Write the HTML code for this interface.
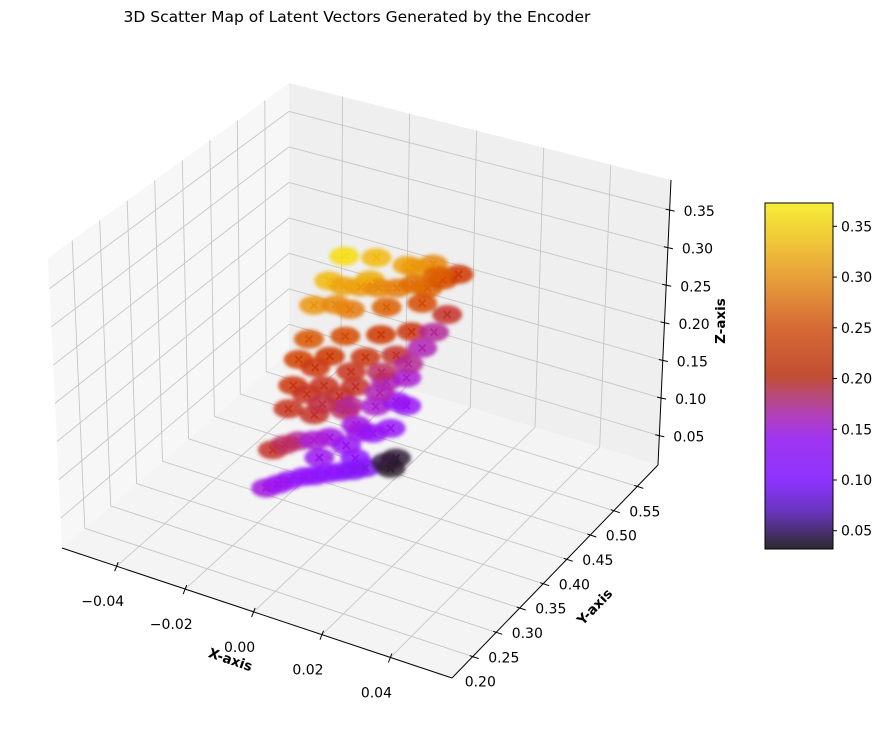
<!DOCTYPE html>
<html><head><meta charset="utf-8">
<style>
html,body{margin:0;padding:0;background:#fff;}
svg{display:block;font-family:"DejaVu Sans","Liberation Sans",sans-serif;}
</style></head>
<body>
<svg id="chart" width="885" height="733" viewBox="0 0 885 733" xmlns="http://www.w3.org/2000/svg">
<defs>
<linearGradient id="cbgrad" x1="0" y1="1" x2="0" y2="0">
<stop offset="0" stop-color="#2e2a2e"/>
<stop offset="0.11" stop-color="#6a35c0"/>
<stop offset="0.2" stop-color="#8e33ff"/>
<stop offset="0.32" stop-color="#a035f0"/>
<stop offset="0.38" stop-color="#b040c0"/>
<stop offset="0.45" stop-color="#b84a70"/>
<stop offset="0.5" stop-color="#c24e33"/>
<stop offset="0.64" stop-color="#d56a35"/>
<stop offset="0.79" stop-color="#e8a23a"/>
<stop offset="1" stop-color="#f7ee37"/>
</linearGradient>
<filter id="soft" x="-20%" y="-20%" width="140%" height="140%"><feGaussianBlur stdDeviation="1.8"/></filter>
</defs>
<text x="357" y="22" font-size="15.5" text-anchor="middle" fill="#000">3D Scatter Map of Latent Vectors Generated by the Encoder</text>
<g id="panes"></g>
<g id="grid"></g>
<g id="axes"></g>
<g id="halos" filter="url(#soft)"></g>
<g id="points"></g>
<g id="colorbar"></g>
</svg>
<script>
// ---- data ----
const xTicks = [-0.04, -0.02, 0.00, 0.02, 0.04];
const xTickLabels = ["\u22120.04", "\u22120.02", "0.00", "0.02", "0.04"];
const yTicks = [0.20, 0.25, 0.30, 0.35, 0.40, 0.45, 0.50, 0.55];
const yTickLabels = ["0.20", "0.25", "0.30", "0.35", "0.40", "0.45", "0.50", "0.55"];
const zTicks = [0.05, 0.10, 0.15, 0.20, 0.25, 0.30, 0.35];
const zTickLabels = ["0.05", "0.10", "0.15", "0.20", "0.25", "0.30", "0.35"];
const cbTicks = [0.05, 0.10, 0.15, 0.20, 0.25, 0.30, 0.35];
const pointsX = [-0.0008,0.0005,0.0054,0.0068,-0.0036,-0.0012,0.0031,0.006,-0.0065,-0.0016,0.0019,0.0049,0.0035,0.0017,0.0039,
 -0.0088,-0.0036,0.0,0.0041,0.0017,
 -0.0097,-0.0057,0.0004,0.0029,0.0012,-0.0082,-0.0034,0.0018,0.0016,0.0033,-0.0053,-0.0002,0.0035,0.0036,0.0031,0.0047,0.0007,
 -0.0004,-0.001,-0.0008,0.0029,0.0067,-0.0016,
 -0.0022,-0.0029,-0.0004,0.0024,0.0051,0.0025,
 -0.0007,-0.0004,-0.0001,
 0.003,0.006,-0.003,0.004,0.001,-0.004,0.005,
 -0.007,-0.001,0.002,-0.005,0.001,0.003,-0.002,0.004,0.002,
 -0.001,0.000,0.002,0.004,
 -0.0025,-0.0015,0.001,0.004];
const pointsY = [0.346,0.399,0.427,0.468,0.335,0.380,0.422,0.463,0.325,0.362,0.410,0.46,0.51,0.553,0.517,
 0.330,0.366,0.412,0.445,0.506,
 0.316,0.350,0.379,0.423,0.486,0.295,0.323,0.350,0.412,0.441,0.266,0.282,0.318,0.378,0.422,0.432,0.326,
 0.202,0.256,0.316,0.353,0.387,0.291,
 0.200,0.250,0.283,0.315,0.347,0.345,
 0.428,0.446,0.433,
 0.37,0.44,0.36,0.45,0.40,0.35,0.49,
 0.33,0.36,0.40,0.30,0.34,0.39,0.31,0.44,0.35,
 0.23,0.29,0.33,0.37,
 0.225,0.27,0.30,0.33];
const pointsZ = [0.36,0.33,0.31,0.29,0.33,0.30,0.28,0.26,0.30,0.28,0.26,0.24,0.24,0.22,0.19,
 0.25,0.24,0.22,0.21,0.17,
 0.23,0.22,0.21,0.19,0.16,0.21,0.20,0.19,0.16,0.15,0.20,0.19,0.18,0.15,0.13,0.12,0.19,
 0.19,0.17,0.14,0.13,0.12,0.15,
 0.14,0.12,0.11,0.10,0.09,0.10,
 0.04,0.035,0.03,
 0.32,0.30,0.31,0.27,0.29,0.29,0.26,
 0.215,0.20,0.18,0.20,0.17,0.16,0.185,0.17,0.14,
 0.18,0.13,0.125,0.12,
 0.13,0.115,0.105,0.095];

// ---- axes / projection ----
const XMIN=-0.056, XMAX=0.058, YMIN=0.156, YMAX=0.594, ZMIN=0.011, ZMAX=0.39;
const C = {
 "000":[62,548],"100":[452,678],"110":[658,465],"010":[289,352],
 "001":[48,258],"101":[455,370],"111":[671,180],"011":[289,83]};
function proj(x,y,z){
 const u=(x-XMIN)/(XMAX-XMIN), v=(y-YMIN)/(YMAX-YMIN), w=(z-ZMIN)/(ZMAX-ZMIN);
 const r=[0,0];
 for(const a of [0,1])for(const b of [0,1])for(const c of [0,1]){
  const wt=(a?u:1-u)*(b?v:1-v)*(c?w:1-w);
  const p=C[""+a+b+c]; r[0]+=wt*p[0]; r[1]+=wt*p[1];
 }
 return r;
}
const NS="http://www.w3.org/2000/svg";
function mk(tag,attrs,parent){const e=document.createElementNS(NS,tag);for(const k in attrs)e.setAttribute(k,attrs[k]);parent.appendChild(e);return e;}
function poly(pts){return pts.map(p=>p[0].toFixed(1)+","+p[1].toFixed(1)).join(" ");}
const gP=document.getElementById('panes'),gG=document.getElementById('grid'),gA=document.getElementById('axes'),gH=document.getElementById('halos'),gPt=document.getElementById('points'),gC=document.getElementById('colorbar');

let pe=mk('polygon',{points:poly([proj(XMIN,YMIN,ZMIN),proj(XMAX,YMIN,ZMIN),proj(XMAX,YMAX,ZMIN),proj(XMIN,YMAX,ZMIN)]),fill:'#f4f4f4'},gP);


pe=mk('polygon',{points:poly([proj(XMIN,YMIN,ZMIN),proj(XMIN,YMAX,ZMIN),proj(XMIN,YMAX,ZMAX),proj(XMIN,YMIN,ZMAX)]),fill:'#f7f7f7'},gP);


pe=mk('polygon',{points:poly([proj(XMIN,YMAX,ZMIN),proj(XMAX,YMAX,ZMIN),proj(XMAX,YMAX,ZMAX),proj(XMIN,YMAX,ZMAX)]),fill:'#efefef'},gP);



function line(p,q,parent,stroke,sw){return mk('line',{x1:p[0].toFixed(1),y1:p[1].toFixed(1),x2:q[0].toFixed(1),y2:q[1].toFixed(1),stroke:stroke,'stroke-width':sw},parent);}
const GC='#c6c6c6';
xTicks.forEach(t=>{
 let l=line(proj(t,YMIN,ZMIN),proj(t,YMAX,ZMIN),gG,GC,0.9);
 
 
 l=line(proj(t,YMAX,ZMIN),proj(t,YMAX,ZMAX),gG,GC,0.9);
 
 
});
yTicks.forEach(t=>{
 let l=line(proj(XMIN,t,ZMIN),proj(XMAX,t,ZMIN),gG,GC,0.9);
 
 
 l=line(proj(XMIN,t,ZMIN),proj(XMIN,t,ZMAX),gG,GC,0.9);
 
 
});
zTicks.forEach(t=>{
 let l=line(proj(XMIN,YMIN,t),proj(XMIN,YMAX,t),gG,GC,0.9);
 
 
 l=line(proj(XMIN,YMAX,t),proj(XMAX,YMAX,t),gG,GC,0.9);
 
 
});

let ax=line(proj(XMIN,YMIN,ZMIN),proj(XMAX,YMIN,ZMIN),gA,'#000',1);


ax=line(proj(XMAX,YMIN,ZMIN),proj(XMAX,YMAX,ZMIN),gA,'#000',1);


ax=line(proj(XMAX,YMAX,ZMIN),proj(XMAX,YMAX,ZMAX),gA,'#000',1);



function txt(s,x,y,parent,opts){const e=mk('text',Object.assign({x:x.toFixed(1),y:y.toFixed(1),'font-size':14,'text-anchor':'middle',fill:'#000'},opts||{}),parent);e.textContent=s;return e;}
xTicks.forEach((t,i)=>{
 const p=proj(t,YMIN,ZMIN);
 let tk=line([p[0]+1.5,p[1]-4],[p[0]-2,p[1]+5],gA,'#000',1);
 
 
 const lb=txt(xTickLabels[i],p[0]-14,p[1]+40,gA);
 
 
});
yTicks.forEach((t,i)=>{
 const p=proj(XMAX,t,ZMIN);
 let tk=line([p[0]-3,p[1]-1],[p[0]+6,p[1]+2],gA,'#000',1);
 
 
 const lb=txt(yTickLabels[i],p[0]-8,p[1]+30,gA,{'text-anchor':'start'});
 
 
});
zTicks.forEach((t,i)=>{
 const p=proj(XMAX,YMAX,t);
 let tk=line([p[0]-4,p[1]-1],[p[0]+5,p[1]+1],gA,'#000',1);
 
 
 const lb=txt(zTickLabels[i],p[0]+14,p[1]+6,gA,{'text-anchor':'start'});
 
 
});
let al=txt('X-axis',0,0,gA,{'font-weight':'bold','font-size':13.5,transform:'translate(229,664) rotate(19)'});


al=txt('Y-axis',0,0,gA,{'font-weight':'bold','font-size':13.5,transform:'translate(598,610) rotate(-46)'});


al=txt('Z-axis',0,0,gA,{'font-weight':'bold','font-size':13.5,transform:'translate(725,321) rotate(-90)'});



const cmV=[0.032,0.07,0.10,0.13,0.15,0.17,0.19,0.22,0.26,0.30,0.373];
const cmC=[[46,30,46],[100,20,200],[140,20,255],[155,20,240],[170,30,210],[180,40,150],[195,50,40],[205,55,5],[220,95,5],[235,150,10],[250,235,20]];
function cmap(v){
 if(v<=cmV[0])return cmC[0];
 for(let i=1;i<cmV.length;i++){ if(v<=cmV[i]){const f=(v-cmV[i-1])/(cmV[i]-cmV[i-1]);return cmC[i-1].map((c,k)=>Math.round(c+f*(cmC[i][k]-c)));}}
 return cmC[cmC.length-1];
}
pointsX.forEach((_,i)=>{
 const p=proj(pointsX[i],pointsY[i],pointsZ[i]); const c=cmap(pointsZ[i]); const col='rgb('+c.join(',')+')';
 const h=mk('ellipse',{cx:p[0].toFixed(1),cy:p[1].toFixed(1),rx:15,ry:9.5,fill:col,opacity:0.85},gH);
 
 
});
pointsX.forEach((_,i)=>{
 const p=proj(pointsX[i],pointsY[i],pointsZ[i]); const c=cmap(pointsZ[i]); const col='rgb('+c.join(',')+')';
 const s=3.5;
 const m=mk('path',{d:`M${p[0]-s},${p[1]-s}L${p[0]+s},${p[1]+s}M${p[0]-s},${p[1]+s}L${p[0]+s},${p[1]-s}`,stroke:col,'stroke-width':2},gPt);
 
 
});

const CB={x:765,y:203,w:68,h:346,min:0.032,max:0.373};
let cr=mk('rect',{x:CB.x,y:CB.y,width:CB.w,height:CB.h,fill:'url(#cbgrad)',stroke:'#000','stroke-width':1},gC);


cbTicks.forEach(t=>{
 const y=CB.y+CB.h-(t-CB.min)/(CB.max-CB.min)*CB.h;
 let tk=line([CB.x+CB.w,y],[CB.x+CB.w+4,y],gC,'#000',1);
 
 
 const lb=txt(t.toFixed(2),CB.x+CB.w+8,y+5,gC,{'text-anchor':'start'});
 
 
});
</script>
</body></html>
